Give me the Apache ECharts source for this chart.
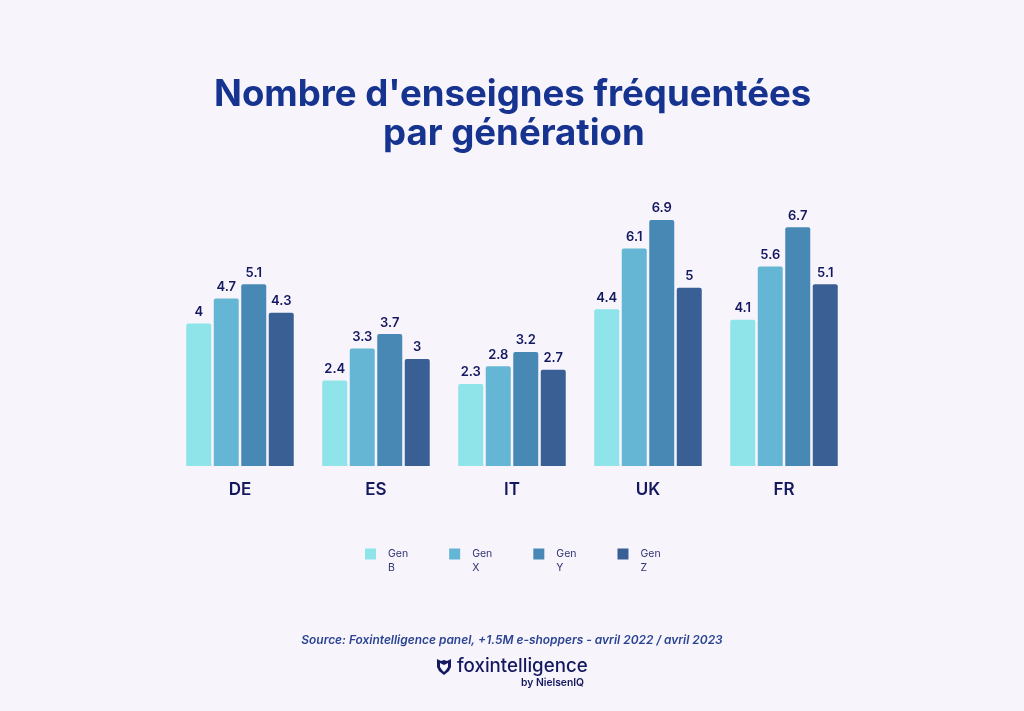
<!DOCTYPE html>
<html>
<head>
<meta charset="utf-8">
<style>
  html, body { margin: 0; padding: 0; background: #f7f4fc; }
  #chart { width: 1024px; height: 711px; }
</style>
<script src="https://cdn.jsdelivr.net/npm/echarts@6/dist/echarts.min.js"></script>
</head>
<body>
<div id="chart"></div>
<script>
const countries = ['DE', 'ES', 'IT', 'UK', 'FR'];
const seriesNames = ['Gen\nB', 'Gen\nX', 'Gen\nY', 'Gen\nZ'];
const genB = [4, 2.4, 2.3, 4.4, 4.1];
const genX = [4.7, 3.3, 2.8, 6.1, 5.6];
const genY = [5.1, 3.7, 3.2, 6.9, 6.7];
const genZ = [4.3, 3, 2.7, 5, 5.1];
const colors = ['#8ee4e8', '#65b6d4', '#4888b5', '#3a5f95'];

const font = 'Inter';
const navy = '#14185f';
const bg = '#f7f4fc';

const chart = echarts.init(document.getElementById('chart'));

const makeSeries = (name, data, color) => ({
  name,
  type: 'bar',
  data,
  barWidth: 25,
  barGap: '10%',
  itemStyle: { color, borderRadius: [2, 2, 0, 0] },
  label: {
    show: true,
    position: 'top',
    distance: 5,
    color: navy,
    fontFamily: font,
    fontSize: 13,
    fontWeight: 600,
  },
  animation: false,
});

const titleStyle = {
  color: '#16348f',
  fontFamily: font,
  fontSize: 36.6,
  fontWeight: 700,
};

chart.setOption({
  backgroundColor: bg,
  animation: false,
  title: [
    { text: "Nombre d'enseignes fréquentées", left: 214, top: 76, padding: 0, textStyle: titleStyle },
    { text: 'par génération', left: 383, top: 115, padding: 0, textStyle: titleStyle },
  ],
  legend: {
    left: 365,
    top: 547,
    padding: 0,
    // square sits at the top of a tall icon box, level with the first text line
    icon: 'path://M0 0H11V11H0Z M0 25H0.01V25Z',
    itemWidth: 11,
    itemHeight: 25,
    itemGap: 41,
    textStyle: {
      color: '#2f3373',
      fontFamily: font,
      fontSize: 10.5,
      lineHeight: 14,
      padding: [0, 0, 0, 7],
    },
    data: seriesNames,
  },
  grid: { left: 172, right: 172, top: 216.5, bottom: 245 },
  xAxis: {
    type: 'category',
    data: countries,
    axisLine: { show: false },
    axisTick: { show: false },
    axisLabel: {
      margin: 15,
      color: navy,
      fontFamily: font,
      fontSize: 17,
      fontWeight: 600,
    },
  },
  yAxis: {
    type: 'value',
    min: 0,
    max: 7,
    show: false,
    splitLine: { show: false },
  },
  series: [
    makeSeries(seriesNames[0], genB, colors[0]),
    makeSeries(seriesNames[1], genX, colors[1]),
    makeSeries(seriesNames[2], genY, colors[2]),
    makeSeries(seriesNames[3], genZ, colors[3]),
  ],
  graphic: [
    {
      type: 'text',
      left: 'center',
      top: 634,
      style: {
        text: 'Source: Foxintelligence panel, +1.5M e-shoppers - avril 2022 / avril 2023',
        fill: '#2a4493',
        font: 'italic 600 11.95px Inter',
      },
    },
    {
      // shield of the logo
      type: 'polygon',
      shape: { points: [[437, 659], [441, 661], [444, 660], [447, 661], [451, 659], [451, 667], [449, 671], [444, 675], [439, 671], [437, 667]] },
      style: { fill: navy },
    },
    {
      type: 'polygon',
      shape: { points: [[440, 663], [444, 665], [448, 663], [448, 667], [446, 670], [444, 672], [442, 670], [440, 667]] },
      style: { fill: bg },
    },
    {
      type: 'text',
      left: 457,
      top: 657,
      style: { text: 'foxintelligence', fill: navy, font: '500 18.7px Inter' },
    },
    {
      type: 'text',
      left: 521,
      top: 678,
      style: { text: 'by NielsenIQ', fill: navy, font: '600 10.3px Inter' },
    },
  ],
});
</script>
</body>
</html>
